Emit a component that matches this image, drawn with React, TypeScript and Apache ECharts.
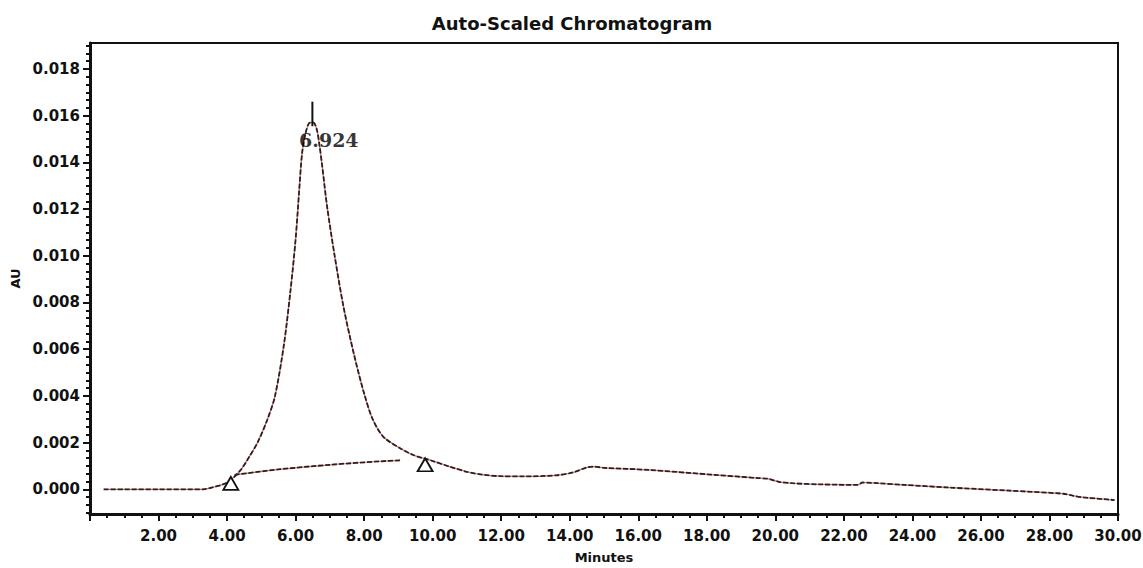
import React, { useEffect, useRef } from "react";
import * as echarts from "echarts";

const titleText = "Auto-Scaled Chromatogram";
const xAxisName = "Minutes";
const yAxisName = "AU";
const peakLabel = "6.924";

// chromatogram trace [minutes, AU]
const traceTime = [
  0.4, 1.0, 2.0, 3.0, 3.3, 3.62, 3.9, 4.11, 4.4, 4.65, 4.89, 5.18, 5.4, 5.66, 5.85, 6.0, 6.1, 6.19, 6.3, 6.42,
  6.52, 6.62, 6.7, 6.78, 6.92, 7.14, 7.4, 7.7, 8.0, 8.25, 8.56, 9.05, 9.43, 9.92, 10.5, 11.0, 11.5, 12.0, 12.6,
  13.6, 14.1, 14.5, 14.7, 15.0, 16.3, 18.2, 19.5, 19.8, 20.1, 20.5, 21.3, 22.4, 22.55, 23.0, 23.75, 25.0, 26.85,
  28.4, 28.7, 29.0, 29.9,
];
const traceAU = [
  0.0, 0.0, 0.0, 0.0, 0.0, 0.0001, 0.00022, 0.0004, 0.00083, 0.0014, 0.002, 0.003, 0.004, 0.0062, 0.0085, 0.0107,
  0.0127, 0.0144, 0.0153, 0.0157, 0.0157, 0.0154, 0.0147, 0.0138, 0.0121, 0.01, 0.0078, 0.0058, 0.0041, 0.003,
  0.00225, 0.00176, 0.00147, 0.00125, 0.00097, 0.00075, 0.00062, 0.00056, 0.00055, 0.0006, 0.00072, 0.00094,
  0.00097, 0.00092, 0.00083, 0.00062, 0.00048, 0.00045, 0.00032, 0.00026, 0.00021, 0.00019, 0.00029, 0.00026,
  0.00019, 0.00008, -0.00006, -0.00019, -0.00028, -0.00035, -0.00046,
];

// integration baseline
const baseTime = [4.22, 5.5, 7.0, 8.5, 9.05];
const baseAU = [0.00062, 0.00085, 0.00105, 0.0012, 0.00124];

// peak start/end markers
const markerTime = [4.11, 9.78];
const markerAU = [0.00025, 0.00105];

// apex tick
const apexTime = 6.49;
const apexAU = [0.01555, 0.0166];
const labelPos = [6.97, 0.01496];

const yLabels = [0, 0.002, 0.004, 0.006, 0.008, 0.01, 0.012, 0.014, 0.016, 0.018];
const yMin = -0.001058;
const yMax = 0.019113;

export default function App() {
  const ref = useRef<HTMLDivElement>(null);
  useEffect(() => {
    if (!ref.current) return;
    const chart = echarts.init(ref.current, undefined, { renderer: "svg" });
    const trace = traceTime.map((t, i) => [t, traceAU[i]]);
    const base = baseTime.map((t, i) => [t, baseAU[i]]);
    const markers = markerTime.map((t, i) => [t, markerAU[i]]);
    const minorY: number[] = [];
    for (let k = -3; k <= 57; k++) minorY.push((k * 0.002) / 6);
    const font = "DejaVu Sans";
    chart.setOption({
      animation: false,
      backgroundColor: "#fff",
      title: {
        text: titleText,
        left: 567,
        textAlign: "center",
        top: 9,
        textStyle: { fontFamily: font, fontWeight: "bold", fontSize: 18, color: "#111" },
      },
      grid: {
        left: 90,
        right: 25,
        top: 43,
        bottom: 54,
        outerBoundsMode: "none",
        containLabel: false,
        show: true,
        borderColor: "#111",
        borderWidth: 2,
        backgroundColor: "transparent",
      },
      xAxis: {
        type: "value",
        min: 0,
        max: 30,
        interval: 2,
        name: xAxisName,
        nameLocation: "middle",
        nameGap: 37,
        nameTextStyle: { fontFamily: font, fontWeight: "bold", fontSize: 13, color: "#111" },
        axisLine: { show: true, onZero: false, lineStyle: { color: "#111", width: 3 } },
        axisTick: { show: true, length: 7, lineStyle: { color: "#111", width: 2 } },
        minorTick: { show: true, splitNumber: 4, length: 4, lineStyle: { color: "#111", width: 2 } },
        splitLine: { show: false },
        axisLabel: {
          margin: 14,
          fontFamily: font,
          fontWeight: "bold",
          fontSize: 15,
          color: "#111",
          formatter: (v: number) => (v === 0 ? "" : v.toFixed(2)),
        },
      },
      yAxis: [
        {
          type: "value",
          min: yMin,
          max: yMax,
          name: yAxisName,
          nameLocation: "middle",
          nameGap: 68,
          nameTextStyle: { fontFamily: font, fontWeight: "bold", fontSize: 13, color: "#111" },
          axisLine: { show: true, onZero: false, lineStyle: { color: "#111", width: 3 } },
          axisTick: { show: true, length: 7, customValues: yLabels, lineStyle: { color: "#111", width: 2 } },
          splitLine: { show: false },
          axisLabel: {
            customValues: yLabels,
            margin: 10,
            fontFamily: font,
            fontWeight: "bold",
            fontSize: 15,
            color: "#111",
            formatter: (v: number) => v.toFixed(3),
          },
        },
        {
          type: "value",
          min: yMin,
          max: yMax,
          position: "left",
          axisLine: { show: false, onZero: false },
          axisTick: { show: true, length: 4, customValues: minorY, lineStyle: { color: "#111", width: 2 } },
          axisLabel: { show: false },
          splitLine: { show: false },
        },
      ],
      series: [
        {
          type: "line",
          data: trace,
          symbol: "none",
          smooth: 0.3,
          lineStyle: { color: "#d46a6a", width: 1.2 },
          z: 2,
        },
        {
          type: "line",
          data: trace,
          symbol: "none",
          smooth: 0.3,
          lineStyle: { color: "#2a2020", width: 1.8, type: [5, 2] },
          z: 3,
        },
        {
          type: "line",
          data: base,
          symbol: "none",
          smooth: 0.3,
          lineStyle: { color: "#d46a6a", width: 1.2 },
          z: 2,
        },
        {
          type: "line",
          data: base,
          symbol: "none",
          smooth: 0.3,
          lineStyle: { color: "#2a2020", width: 1.8, type: [5, 2] },
          z: 3,
        },
        {
          type: "line",
          data: apexAU.map((a) => [apexTime, a]),
          symbol: "none",
          lineStyle: { color: "#111", width: 2 },
          z: 4,
        },
        {
          type: "scatter",
          data: markers,
          symbol: "triangle",
          symbolSize: [15, 13],
          itemStyle: { color: "#fff", borderColor: "#111", borderWidth: 1.8, opacity: 1 },
          z: 5,
        },
        {
          type: "scatter",
          data: [labelPos],
          symbolSize: 0,
          silent: true,
          label: {
            show: true,
            position: "inside",
            formatter: peakLabel,
            fontFamily: "DejaVu Serif",
            fontWeight: "bold",
            fontSize: 19,
            color: "#000",
          },
          z: 6,
        },
      ],
    });
    return () => chart.dispose();
  }, []);
  return (
    <div
      ref={ref}
      style={{ position: "fixed", left: 0, top: 0, width: 1143, height: 568 }}
    />
  );
}
